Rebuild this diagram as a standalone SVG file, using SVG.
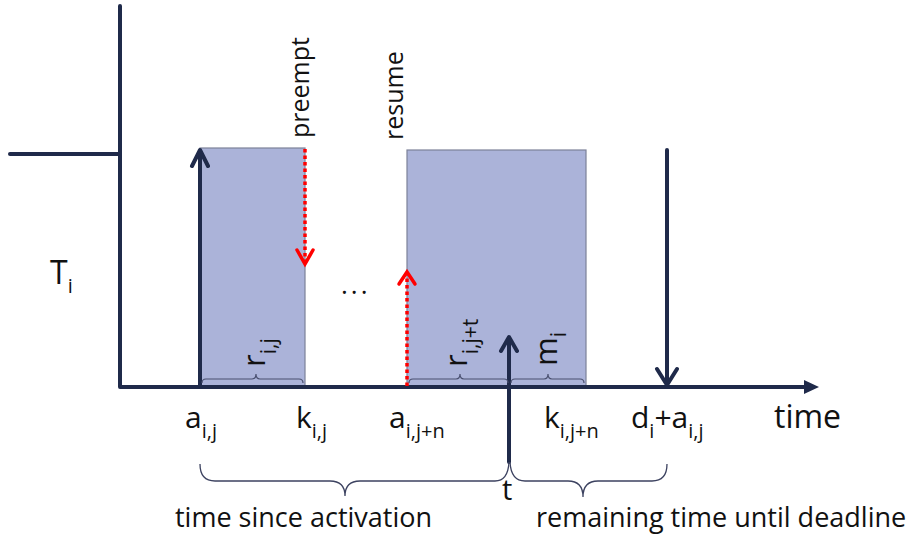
<svg xmlns="http://www.w3.org/2000/svg" width="908" height="538" viewBox="0 0 908 538">
<style>
.ax{fill:none;stroke:#1f2a4a;stroke-width:4;stroke-linecap:round;stroke-linejoin:round}
.red{fill:none;stroke:#ff0000;stroke-width:3.5;stroke-dasharray:3.5 3}
.redh{fill:none;stroke:#ff0000;stroke-width:3.5;stroke-linecap:round}
.box{fill:#abb3d9;stroke:#7c8198;stroke-width:1.2}
.br{fill:none;stroke:#4a5070;stroke-width:1.2}
.bbr{fill:none;stroke:#3c4260;stroke-width:1.3}
text{font-family:"Open Sans","Noto Sans",sans-serif;fill:#111}
.m{font-size:30px}
.s{font-size:20px}
.rm{font-size:31px}
.rs{font-size:21px}
</style>
<rect width="908" height="538" fill="#ffffff"/>
<g id="job1"><rect class="box" x="200" y="148" width="105" height="239"/></g>
<g id="job2"><rect class="box" x="407" y="150" width="179" height="237"/></g>
<g id="connectors">
<path class="ax" d="M10,154 H120"/>
<path class="ax" d="M120,6 V387 H806"/>
<polygon points="804,380 819,387 804,394" fill="#1f2a4a"/>
<path class="ax" d="M200,387 V151 M192,166 L200,150 L208,166"/>
<path class="red" d="M305,149 V262"/>
<path class="redh" d="M297,250 L305,264 L313,250"/>
<path class="red" d="M407,386 V275"/>
<path class="redh" d="M399,284 L407,272 L415,284"/>
<path class="ax" d="M509,462 V339 M501,351 L509,337 L517,351"/>
<path class="ax" d="M667,150 V384 M657,369 L667,385 L677,369"/>
<path class="br" d="M202,383 Q202,379 206,379 H252 Q256,379 256,374 Q256,379 260,379 H299 Q303,379 303,383"/>
<path class="br" d="M409,383 Q409,379 413,379 H456 Q460,379 460,374 Q460,379 464,379 H504 Q508,379 508,383"/>
<path class="br" d="M511,383 Q511,379 515,379 H544 Q548,379 548,374 Q548,379 552,379 H580 Q584,379 584,383"/>
<path class="bbr" d="M200,464 Q200,481 215,481 H330 Q345,481 345,496 Q345,481 360,481 H495 Q508,481 509,462"/>
<path class="bbr" d="M510,462 Q511,481 525,481 H568 Q583,481 583,497 Q583,481 598,481 H652 Q667,481 667,464"/>
</g>
<g id="labels">
<text x="50" y="284" style="font-size:32px">T<tspan dy="9" style="font-size:20px">i</tspan></text>
<text x="341" y="294" style="font-size:26px;letter-spacing:3px">...</text>
<text transform="translate(309,138) rotate(-90)" style="font-size:25px">preempt</text>
<text transform="translate(403,140) rotate(-90)" style="font-size:25px">resume</text>
<text transform="translate(265,367) rotate(-90)" class="rm">r<tspan class="rs" dy="11">i,j</tspan></text>
<text transform="translate(467,367) rotate(-90)" class="rm">r<tspan class="rs" dy="11">i,j+t</tspan></text>
<text transform="translate(557,366) rotate(-90)" class="rm">m<tspan class="rs" dy="9">i</tspan></text>
<text class="m" x="185" y="428">a<tspan class="s" dy="10">i,j</tspan></text>
<text class="m" x="296" y="428">k<tspan class="s" dy="10">i,j</tspan></text>
<text class="m" x="389" y="428">a<tspan class="s" dy="10">i,j+n</tspan></text>
<text class="m" x="544" y="428">k<tspan class="s" dy="10">i,j+n</tspan></text>
<text class="m" x="631" y="428">d<tspan class="s" dy="10">i</tspan><tspan dy="-10">+a</tspan><tspan class="s" dy="10">i,j</tspan></text>
<text x="774" y="428" style="font-size:32px">time</text>
<text x="502" y="500" style="font-size:29px">t</text>
<text x="175" y="527" style="font-size:27px">time since activation</text>
<text x="536" y="527" style="font-size:27px">remaining time until deadline</text>
</g>
</svg>
